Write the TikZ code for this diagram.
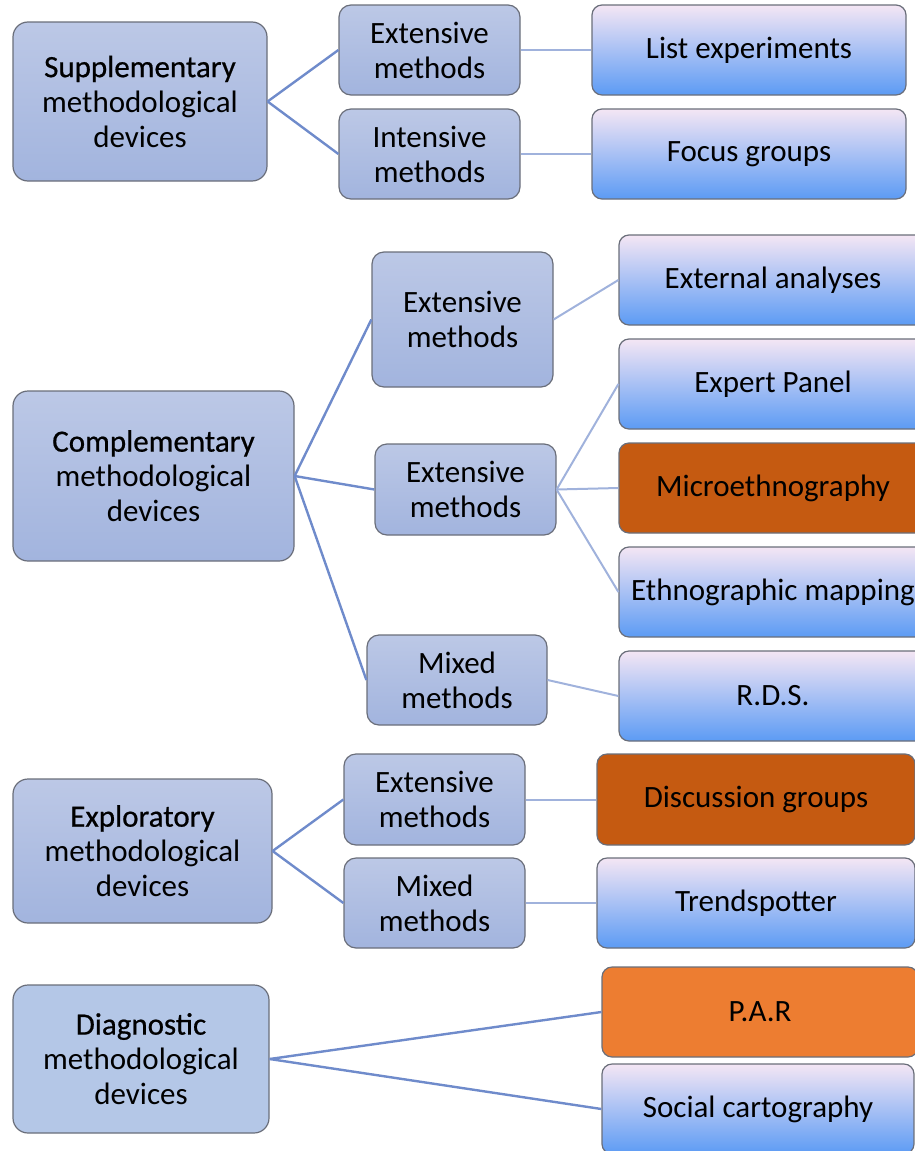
\documentclass[tikz,border=0pt]{standalone}
\usepackage{fontspec}
\setmainfont{Carlito}
\newfontfamily\headfont[FakeBold=0.6]{Carlito}
\definecolor{boxtop}{HTML}{BCC8E6}
\definecolor{boxbot}{HTML}{A2B4DE}
\definecolor{flatbox}{HTML}{B4C7E7}
\definecolor{leaftop}{HTML}{F4E6F4}
\definecolor{leafmid}{HTML}{8EC4FF}
\definecolor{leafbot}{HTML}{5C9BF4}
\definecolor{rust}{HTML}{C55A11}
\definecolor{tangerine}{HTML}{ED7D31}
\definecolor{edge}{HTML}{6A6E7A}
\definecolor{trunk}{HTML}{6F8BCB}
\definecolor{twig}{HTML}{A0B2DC}
\begin{document}
\begin{tikzpicture}[x=1pt, y=-1pt,
    base/.style={rectangle, draw=edge, line width=1.2pt, align=center, inner sep=0pt,
        font=\fontsize{31}{35}\selectfont},
    flatgroup/.style={base, rounded corners=15pt, fill=flatbox},
    group/.style={base, rounded corners=15pt, top color=boxtop, bottom color=boxbot},
    method/.style={base, rounded corners=12pt, minimum width=181pt, top color=boxtop, bottom color=boxbot},
    leaf/.style={base, rounded corners=10pt, minimum height=90pt, shading=axis,
        top color=leaftop, middle color=leafmid, bottom color=leafbot},
    hot/.style={base, rounded corners=10pt, minimum height=90pt, fill=rust},
    warm/.style={base, rounded corners=10pt, minimum height=90pt, fill=tangerine},
    trunkline/.style={draw=trunk, line width=2.4pt},
    twigline/.style={draw=twig, line width=2pt}
]
\useasboundingbox (0,0) rectangle (915,1151);
\clip (0,0) rectangle (915,1151);

% first level
\node[group, minimum width=254pt, minimum height=159pt] (supp) at (140,101.5) {{\headfont Supplementary}\\methodological\\devices};
\node[group, minimum width=281pt, minimum height=170pt] (compl) at (153.5,476) {{\headfont Complementary}\\methodological\\devices};
\node[group, minimum width=259pt, minimum height=144pt] (explor) at (142.5,851) {{\headfont Exploratory}\\methodological\\devices};
\node[flatgroup, minimum width=256pt, minimum height=148pt] (diag) at (141,1059) {{\headfont Diagnostic}\\methodological\\devices};

% second level
\node[method, minimum height=90pt] (suppext) at (429.5,50) {Extensive\\methods};
\node[method, minimum height=90pt] (suppint) at (429.5,154) {Intensive\\methods};
\node[method, minimum height=135pt] (complexta) at (462.5,319.5) {Extensive\\methods};
\node[method, minimum height=91pt] (complextb) at (465.5,489.5) {Extensive\\methods};
\node[method, minimum height=90pt, minimum width=180pt] (complmix) at (457,680) {Mixed\\methods};
\node[method, minimum height=91pt] (explorext) at (434.5,799.5) {Extensive\\methods};
\node[method, minimum height=90pt] (explormix) at (434.5,903) {Mixed\\methods};

% third level
\node[leaf, minimum width=314pt] (listexp) at (749,50) {List experiments};
\node[leaf, minimum width=314pt] (focus) at (749,154) {Focus groups};
\node[leaf, minimum width=308pt] (extanal) at (773,280) {External analyses};
\node[leaf, minimum width=308pt] (expert) at (773,384) {Expert Panel};
\node[hot, minimum width=308pt] (micro) at (773,488) {Microethnography};
\node[leaf, minimum width=308pt] (ethno) at (773,592) {Ethnographic mapping};
\node[leaf, minimum width=308pt] (rds) at (773,696) {R.D.S.};
\node[hot, minimum width=318pt, minimum height=91pt] (discuss) at (756,799.5) {Discussion groups};
\node[leaf, minimum width=318pt] (trend) at (756,903) {Trendspotter};
\node[warm, minimum width=316pt] (par) at (760,1012) {P.A.R};
\node[leaf, minimum width=312pt] (social) at (758,1109) {Social cartography};

% connectors
\draw[trunkline] (supp.east) -- (suppext.west);
\draw[trunkline] (supp.east) -- (suppint.west);
\draw[trunkline] (compl.east) -- (complexta.west);
\draw[trunkline] (compl.east) -- (complextb.west);
\draw[trunkline] (compl.east) -- (complmix.west);
\draw[trunkline] (explor.east) -- (explorext.west);
\draw[trunkline] (explor.east) -- (explormix.west);
\draw[trunkline] (diag.east) -- (par.west);
\draw[trunkline] (diag.east) -- (social.west);

\draw[twigline] (suppext.east) -- (listexp.west);
\draw[twigline] (suppint.east) -- (focus.west);
\draw[twigline] (complexta.east) -- (extanal.west);
\draw[twigline] (complextb.east) -- (expert.west);
\draw[twigline] (complextb.east) -- (micro.west);
\draw[twigline] (complextb.east) -- (ethno.west);
\draw[twigline] (complmix.east) -- (rds.west);
\draw[twigline] (explorext.east) -- (discuss.west);
\draw[twigline] (explormix.east) -- (trend.west);
\end{tikzpicture}
\end{document}
